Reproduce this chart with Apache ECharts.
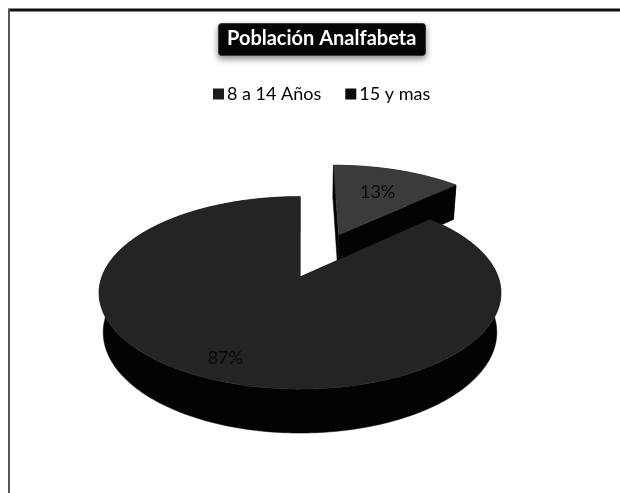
<!DOCTYPE html>
<html>
<head>
<meta charset="utf-8">
<script src="https://cdn.jsdelivr.net/npm/echarts@6/dist/echarts.min.js"></script>
<style>
  html, body { margin: 0; padding: 0; background: #fff; }
  #chart { width: 620px; height: 493px; }
</style>
</head>
<body>
<div id="chart"></div>
<script>
// Población analfabeta por grupo de edad
const categories = ['8 a 14 Años', '15 y mas'];
const values = [13, 87];

// Slice appearance (top face colour, how far the slice is pulled out, label distance)
const topColors = ['#3b3b3b', '#242424'];
const sideColor = '#030303';
const explode = [0.53, 0];
const labelRadius = [0.63, 0.83];

// Perspective view of a disc of radius 1 lying flat, seen from above and in front
const VIEW = { cx: 300, cy: 277, f: 1058, dist: 5.34, tilt: 28.2 * Math.PI / 180, depth: 0.228 };
const SIN = Math.sin(VIEW.tilt), COS = Math.cos(VIEW.tilt);

function project(u, v, y) {
  const yc = v * SIN + y * COS;
  const zc = v * COS - y * SIN + VIEW.dist;
  return [VIEW.cx + VIEW.f * u / zc, VIEW.cy - VIEW.f * yc / zc];
}

const total = values.reduce((a, b) => a + b, 0);

function renderSlice(params, api) {
  const i = params.seriesIndex;
  let before = 0;
  for (let k = 0; k < i; k++) before += values[k];
  const val = api.value(0);
  const a0 = before / total * Math.PI * 2;      // clockwise from 12 o'clock
  const a1 = (before + val) / total * Math.PI * 2;
  const mid = (a0 + a1) / 2;
  const ou = Math.sin(mid) * explode[i];
  const ov = Math.cos(mid) * explode[i];
  const h = -VIEW.depth;

  const pt = (a, r, y) => project(ou + r * Math.sin(a), ov + r * Math.cos(a), y);
  const steps = Math.max(8, Math.ceil((a1 - a0) / 0.02));
  const topArc = [], botArc = [];
  for (let s = 0; s <= steps; s++) {
    const a = a0 + (a1 - a0) * s / steps;
    topArc.push(pt(a, 1, 0));
    botArc.push(pt(a, 1, h));
  }
  const cTop = pt(0, 0, 0), cBot = pt(0, 0, h);

  const children = [];
  // outer wall
  children.push({ type: 'polygon', shape: { points: topArc.concat(botArc.slice().reverse()) },
    style: { fill: sideColor, stroke: sideColor, lineWidth: 0.5 } });
  // cut faces
  [a0, a1].forEach(a => {
    children.push({ type: 'polygon',
      shape: { points: [cTop, pt(a, 1, 0), pt(a, 1, h), cBot] },
      style: { fill: sideColor, stroke: sideColor, lineWidth: 0.5 } });
  });
  // top face
  children.push({ type: 'polygon', shape: { points: [cTop].concat(topArc) },
    style: { fill: topColors[i], stroke: topColors[i], lineWidth: 0.5 } });
  // percentage label
  const lp = pt(mid, labelRadius[i], 0);
  children.push({ type: 'text', z2: 10,
    style: { text: Math.round(val / total * 100) + '%', x: lp[0], y: lp[1],
      align: 'center', verticalAlign: 'middle',
      fill: '#0a0a0a', font: '18px Lato' } });
  return { type: 'group', children };
}

const chart = echarts.init(document.getElementById('chart'), null, { renderer: 'canvas' });
chart.setOption({
  animation: false,
  backgroundColor: '#ffffff',
  title: {
    text: 'Población Analfabeta',
    left: 218, top: 23,
    padding: [6, 9, 7, 9],
    backgroundColor: '#050505',
    borderColor: '#3a3a3a', borderWidth: 1, borderRadius: 3,
    shadowBlur: 6, shadowColor: 'rgba(0,0,0,0.45)', shadowOffsetY: 3,
    textStyle: { color: '#ffffff', fontFamily: 'Lato', fontWeight: 'bold', fontSize: 20 }
  },
  legend: {
    data: categories,
    left: 208, top: 80,
    icon: 'rect', itemWidth: 11, itemHeight: 11, itemGap: 24,
    textStyle: { fontFamily: 'Lato', fontSize: 18, color: '#000', padding: [0, 0, 0, -2] }
  },
  graphic: [
    { type: 'line', shape: { x1: 8, y1: 10, x2: 620, y2: 10 }, style: { stroke: '#111', lineWidth: 3 } },
    { type: 'line', shape: { x1: 9, y1: 9, x2: 9, y2: 493 }, style: { stroke: '#555', lineWidth: 2 } }
  ],
  series: categories.map((name, i) => ({
    type: 'custom',
    name: name,
    coordinateSystem: 'none',
    itemStyle: { color: i === 0 ? '#1c1c1c' : '#0a0a0a' },
    renderItem: renderSlice,
    data: [[values[i]]]
  }))
});
</script>
</body>
</html>
